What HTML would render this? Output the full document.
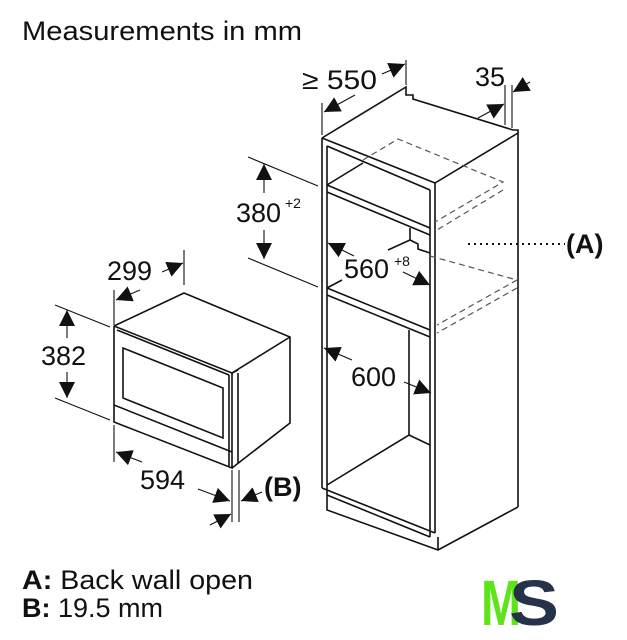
<!DOCTYPE html>
<html><head><meta charset="utf-8"><style>
html,body{margin:0;padding:0;background:#fff;}
svg{display:block;}
text{font-family:"Liberation Sans",Arial,sans-serif;fill:#111;}
</style></head><body>
<svg width="627" height="640" viewBox="0 0 627 640" xmlns="http://www.w3.org/2000/svg">
<defs>
<marker id="a" viewBox="0 0 10 10" refX="10" refY="5" markerWidth="16" markerHeight="16" markerUnits="userSpaceOnUse" orient="auto">
<path d="M0,0 L10,5 L0,10 z" fill="#111"/></marker>
</defs>
<text x="22" y="40" font-size="27" textLength="280" lengthAdjust="spacingAndGlyphs">Measurements in mm</text>

<g stroke="#111" stroke-width="1.6" fill="none">
<path d="M322,138 L406,87 L406,95 L413,95 L413,99 L513,130 L518,130 L518,507"/>
<path d="M322,138 L322,488 M327,146 L327,495"/>
<path d="M322,138 L435,183 L518,133"/>
<path d="M327,146 L430,190"/>
<path d="M430,190 L430,537 M435,183 L435,533"/>
<path d="M327,185 L430,228 M327,192 L430,235 M327,185 L363,163"/>
<path d="M327,288 L430,330 M327,295 L430,337 M327,288 L342,280"/>
<path d="M409,330 L409,435 L327,485 M409,435 L430,445"/>
<path d="M322,488 L435,533 M327,495 L430,537"/>
<path d="M327,495 L327,510 L438,550 L518,507 M438,537 L438,550"/>
<path d="M410,228 L410,240 L388,250 M410,240 L418,244 L418,249 L430,253"/>
</g>
<g stroke="#555" stroke-width="1.2" fill="none" stroke-dasharray="6,4">
<path d="M363,160 L398,139 L503,182 L435,222 M503,190 L437,230"/>
<path d="M430,256 L517,280 L437,325 M517,288 L437,333"/>
</g>
<g stroke="#111" stroke-width="1.6" fill="none">
<path d="M114,326 L184,293 L290,337 L290,423 L232,468"/>
<path d="M114,326 L232,373 L290,337"/>
<path d="M114,326 L114,422 L232,468 L232,373 M117,330 L229,375"/>
<path d="M229,375 L229,466 M238,373 L238,463 M232,373 L238,370"/>
<path d="M123,348 L123,398 L223,438 L223,388 Z"/>
<path d="M114,405 L232,452"/>
</g>
<g stroke="#111" stroke-width="1.1" fill="none">
<path d="M322,103 L322,135 M406,60 L406,85"/>
<path d="M355,95 L324,112" marker-end="url(#a)"/>
<path d="M382,74 L405,64" marker-end="url(#a)"/>
<path d="M505,85 L505,125 M512,85 L512,128"/>
<path d="M478,118 L504,104" marker-end="url(#a)"/>
<path d="M530,82 L513,92" marker-end="url(#a)"/>
<path d="M248,157 L318,186 M248,258 L318,287"/>
<path d="M264,193 L264,164" marker-end="url(#a)"/>
<path d="M264,230 L264,259" marker-end="url(#a)"/>
<path d="M354,256 L328,243" marker-end="url(#a)"/>
<path d="M403,272 L430,285" marker-end="url(#a)"/>
<path d="M352,360 L324,348" marker-end="url(#a)"/>
<path d="M404,382 L431,393" marker-end="url(#a)"/>
<path d="M114,290 L114,325 M184,250 L184,285"/>
<path d="M140,290 L116,300" marker-end="url(#a)"/>
<path d="M162,272 L183,263" marker-end="url(#a)"/>
<path d="M55,305 L110,327 M55,398 L110,420"/>
<path d="M67,338 L67,310" marker-end="url(#a)"/>
<path d="M67,372 L67,398" marker-end="url(#a)"/>
<path d="M114,425 L114,462 M232,470 L232,522 M239,470 L239,522"/>
<path d="M142,462 L116,452" marker-end="url(#a)"/>
<path d="M198,489 L230,501" marker-end="url(#a)"/>
<path d="M262,492 L241,501" marker-end="url(#a)"/>
<path d="M210,525 L231,514" marker-end="url(#a)"/>
</g>
<path d="M468,244 L565,244" stroke="#111" stroke-width="2" stroke-dasharray="2,4"/>

<g font-size="27">
<text x="302" y="89" textLength="75" lengthAdjust="spacingAndGlyphs">≥ 550</text>
<text x="475" y="86">35</text>
<text x="236" y="222">380</text>
<text x="344" y="278">560</text>
<text x="351" y="386">600</text>
<text x="107" y="280">299</text>
<text x="41" y="365">382</text>
<text x="140" y="489">594</text>
<text x="566" y="253" font-weight="bold">(A)</text>
<text x="264" y="496" font-weight="bold">(B)</text>
</g>
<text x="285" y="208" font-size="14">+2</text>
<text x="394" y="266" font-size="14">+8</text>

<text x="22" y="589" font-size="27" textLength="231" lengthAdjust="spacingAndGlyphs"><tspan font-weight="bold">A:</tspan> Back wall open</text>
<text x="22" y="617" font-size="27"><tspan font-weight="bold">B:</tspan> 19.5 mm</text>

<text x="481" y="625" font-size="64" font-weight="bold" style="fill:#5fe31a" textLength="40" lengthAdjust="spacingAndGlyphs">M</text>
<text x="509" y="625" font-size="64" font-weight="bold" style="fill:#26324a" textLength="50" lengthAdjust="spacingAndGlyphs">S</text>
</svg>
</body></html>
